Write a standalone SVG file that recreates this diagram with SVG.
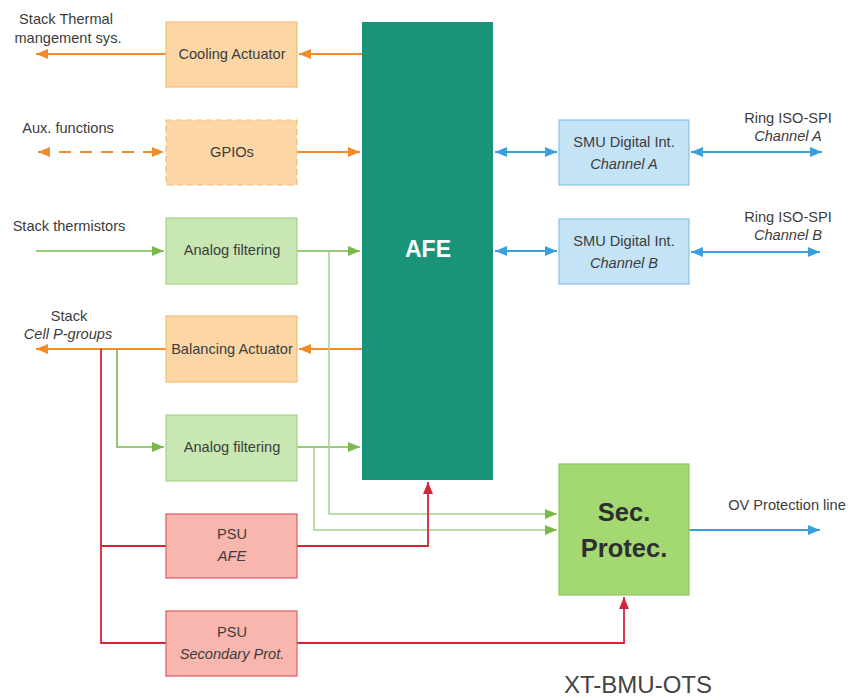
<svg xmlns="http://www.w3.org/2000/svg" width="850" height="700" viewBox="0 0 850 700">
<style>
text{font-family:"Liberation Sans",Arial,sans-serif;fill:#3c3c3c;font-size:14.6px;text-anchor:middle}
.it{font-style:italic}
.or{fill:#fdd6a6;stroke:#f5bb78;stroke-width:1.2}
.gr{fill:#c9e7b3;stroke:#a8d38a;stroke-width:1.2}
.rd{fill:#f8b6ae;stroke:#dd5a66;stroke-width:1.2}
.bl{fill:#c4e3f6;stroke:#86c1e8;stroke-width:1.2}
.lo{stroke:#f28b2a;stroke-width:1.8;fill:none}
.lg{stroke:#7ab84a;stroke-width:1.6;fill:none}
.llg{stroke:#a9d18e;stroke-width:1.5;fill:none}
.lr{stroke:#d3263b;stroke-width:1.8;fill:none}
.lb{stroke:#3b9fdc;stroke-width:1.8;fill:none}
</style>
<defs>
<marker id="ao" markerUnits="userSpaceOnUse" markerWidth="13" markerHeight="10" refX="12" refY="5" orient="auto-start-reverse"><path d="M0,0 L12,5 L0,10 z" fill="#f28b2a"/></marker>
<marker id="ag" markerUnits="userSpaceOnUse" markerWidth="13" markerHeight="10" refX="12" refY="5" orient="auto-start-reverse"><path d="M0,0 L12,5 L0,10 z" fill="#7ab84a"/></marker>
<marker id="ar" markerUnits="userSpaceOnUse" markerWidth="13" markerHeight="10" refX="12" refY="5" orient="auto-start-reverse"><path d="M0,0 L12,5 L0,10 z" fill="#d3263b"/></marker>
<marker id="ab" markerUnits="userSpaceOnUse" markerWidth="13" markerHeight="10" refX="12" refY="5" orient="auto-start-reverse"><path d="M0,0 L12,5 L0,10 z" fill="#3b9fdc"/></marker>
</defs>
<rect width="850" height="700" fill="#ffffff"/>

<g id="connectors">
<line class="lo" x1="362" y1="54" x2="299" y2="54" marker-end="url(#ao)"/>
<line class="lo" x1="166" y1="54" x2="36" y2="54" marker-end="url(#ao)"/>
<line class="lo" x1="38" y1="152" x2="164" y2="152" stroke-dasharray="12,9" marker-start="url(#ao)" marker-end="url(#ao)"/>
<line class="lo" x1="297" y1="152" x2="360" y2="152" marker-end="url(#ao)"/>
<line class="lo" x1="362" y1="349" x2="299" y2="349" marker-end="url(#ao)"/>
<line class="lo" x1="166" y1="349" x2="36" y2="349" marker-end="url(#ao)"/>
<line class="lg" x1="36" y1="251" x2="164" y2="251" marker-end="url(#ag)"/>
<line class="lg" x1="297" y1="251" x2="360" y2="251" marker-end="url(#ag)"/>
<polyline class="lg" points="117,349 117,447 164,447" marker-end="url(#ag)"/>
<line class="lg" x1="297" y1="447" x2="360" y2="447" marker-end="url(#ag)"/>
<polyline class="llg" points="329,251 329,514 557,514" marker-end="url(#ag)"/>
<polyline class="llg" points="314,447 314,530 557,530" marker-end="url(#ag)"/>
<polyline class="lr" points="101,349 101,643 166,643"/>
<line class="lr" x1="101" y1="546" x2="166" y2="546"/>
<polyline class="lr" points="297,546 428,546 428,482" marker-end="url(#ar)"/>
<polyline class="lr" points="297,643 624,643 624,597" marker-end="url(#ar)"/>
<line class="lb" x1="495" y1="152" x2="557" y2="152" marker-start="url(#ab)" marker-end="url(#ab)"/>
<line class="lb" x1="691" y1="152" x2="822" y2="152" marker-start="url(#ab)" marker-end="url(#ab)"/>
<line class="lb" x1="495" y1="251" x2="557" y2="251" marker-start="url(#ab)" marker-end="url(#ab)"/>
<line class="lb" x1="691" y1="252" x2="820" y2="252" marker-start="url(#ab)" marker-end="url(#ab)"/>
<line class="lb" x1="689" y1="530" x2="820" y2="530" marker-end="url(#ab)"/>
</g>

<g id="cooling"><rect class="or" x="166" y="22" width="131" height="65"/><text x="232" y="59">Cooling Actuator</text></g>
<g id="gpios"><rect class="or" x="166" y="120" width="131" height="65" stroke-dasharray="6,4"/><text x="232" y="157">GPIOs</text></g>
<g id="filter1"><rect class="gr" x="166" y="218" width="131" height="66"/><text x="232" y="255">Analog filtering</text></g>
<g id="balancing"><rect class="or" x="166" y="316" width="131" height="66"/><text x="232" y="354">Balancing Actuator</text></g>
<g id="filter2"><rect class="gr" x="166" y="415" width="131" height="66"/><text x="232" y="452">Analog filtering</text></g>
<g id="psu-afe"><rect class="rd" x="166" y="514" width="131" height="64"/><text x="232" y="539">PSU</text><text class="it" x="232" y="561">AFE</text></g>
<g id="psu-sec"><rect class="rd" x="166" y="611" width="131" height="65"/><text x="232" y="637">PSU</text><text class="it" x="232" y="659">Secondary Prot.</text></g>
<g id="afe"><rect x="362" y="22" width="131" height="458" fill="#1a9478"/><text x="428" y="257" style="fill:#ffffff;font-size:23px;font-weight:bold">AFE</text></g>
<g id="smu-a"><rect class="bl" x="559" y="120" width="130" height="65"/><text x="624" y="147">SMU Digital Int.</text><text class="it" x="624" y="169">Channel A</text></g>
<g id="smu-b"><rect class="bl" x="559" y="219" width="130" height="65"/><text x="624" y="246">SMU Digital Int.</text><text class="it" x="624" y="268">Channel B</text></g>
<g id="secprot"><rect x="559" y="464" width="130" height="131" fill="#a3d873" stroke="#8ec75e" stroke-width="1.2"/><text x="624" y="521" style="font-size:25.5px;font-weight:bold;fill:#2f2f2f">Sec.</text><text x="624" y="557" style="font-size:25.5px;font-weight:bold;fill:#2f2f2f">Protec.</text></g>

<g id="labels">
<text x="66" y="24">Stack Thermal</text>
<text x="68" y="43">mangement sys.</text>
<text x="68" y="133">Aux. functions</text>
<text x="69" y="231">Stack thermistors</text>
<text x="69" y="321">Stack</text>
<text class="it" x="68" y="339">Cell P-groups</text>
<text x="788" y="123">Ring ISO-SPI</text>
<text class="it" x="788" y="141">Channel A</text>
<text x="788" y="222">Ring ISO-SPI</text>
<text class="it" x="788" y="240">Channel B</text>
<text x="787" y="510">OV Protection line</text>
<text x="638" y="693" style="font-size:24px;fill:#444">XT-BMU-OTS</text>
</g>
</svg>
